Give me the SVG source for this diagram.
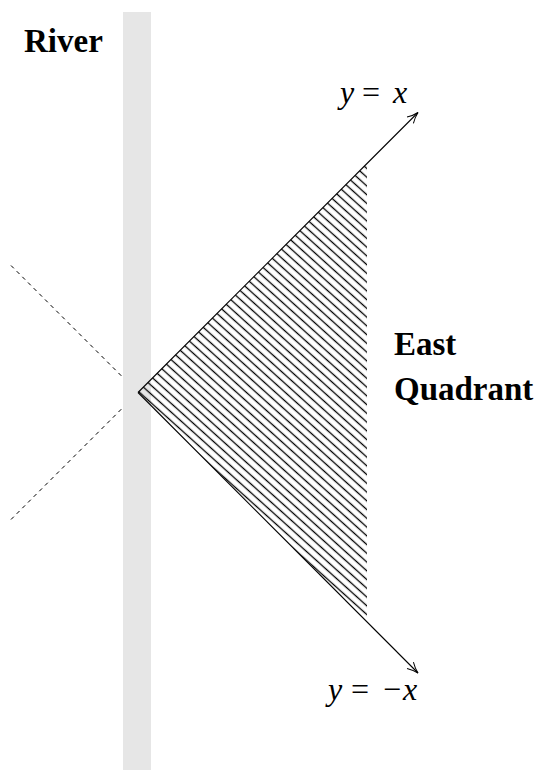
<svg xmlns="http://www.w3.org/2000/svg" width="542" height="771" viewBox="0 0 542 771">
<style>
.axis{stroke:#000;stroke-width:1.1;fill:none}
.dash{stroke:#000;stroke-width:1;stroke-dasharray:4 4;fill:none}
</style>
<defs>
<marker id="arr" markerWidth="14" markerHeight="12" refX="12" refY="6" orient="auto" markerUnits="userSpaceOnUse">
<path d="M1,1.5 Q7,5 12,6 Q7,7 1,10.5" fill="none" stroke="#000" stroke-width="1"/>
</marker>
<pattern id="hatch" patternUnits="userSpaceOnUse" width="20" height="6.5" patternTransform="rotate(42)">
<line x1="-5" y1="3.25" x2="25" y2="3.25" stroke="#000" stroke-width="1.3"/>
</pattern>
<clipPath id="tri"><polygon points="138,392.5 367,163.5 367,621.5"/></clipPath>
</defs>
<g id="connectors">
<line class="dash" x1="11" y1="265.5" x2="138" y2="392.5"/>
<line class="dash" x1="11" y1="519.5" x2="138" y2="392.5"/>
</g>
<g id="river">
<rect x="123" y="12" width="28" height="758" fill="#e6e6e6"/>
<text x="24" y="52" font-family="Liberation Serif, Times New Roman, Times, Nimbus Roman, FreeSerif, Noto Serif, DejaVu Serif, serif" font-weight="bold" font-size="33">River</text>
</g>
<g id="east-quadrant">
<rect x="130" y="160" width="240" height="465" fill="url(#hatch)" clip-path="url(#tri)"/>
<text x="394" y="355" font-family="Liberation Serif, Times New Roman, Times, Nimbus Roman, FreeSerif, Noto Serif, DejaVu Serif, serif" font-weight="bold" font-size="33">East</text>
<text x="394" y="400" font-family="Liberation Serif, Times New Roman, Times, Nimbus Roman, FreeSerif, Noto Serif, DejaVu Serif, serif" font-weight="bold" font-size="33">Quadrant</text>
</g>
<g id="axes">
<line class="axis" x1="138" y1="392.5" x2="418" y2="112.5" marker-end="url(#arr)"/>
<line class="axis" x1="138" y1="392.5" x2="418" y2="673" marker-end="url(#arr)"/>
</g>
<g id="label-yx">
<text font-family="Liberation Serif, Times New Roman, Times, Nimbus Roman, FreeSerif, Noto Serif, DejaVu Serif, serif" font-size="32"><tspan font-style="italic" x="340" y="103">y</tspan><tspan x="362" y="103">=</tspan><tspan font-style="italic" x="393" y="103">x</tspan></text>
</g>
<g id="label-ymx">
<text font-family="Liberation Serif, Times New Roman, Times, Nimbus Roman, FreeSerif, Noto Serif, DejaVu Serif, serif" font-size="32"><tspan font-style="italic" x="328" y="700">y</tspan><tspan x="351" y="700">=</tspan><tspan x="383" y="700">−</tspan><tspan font-style="italic" x="403" y="700">x</tspan></text>
</g>
</svg>
